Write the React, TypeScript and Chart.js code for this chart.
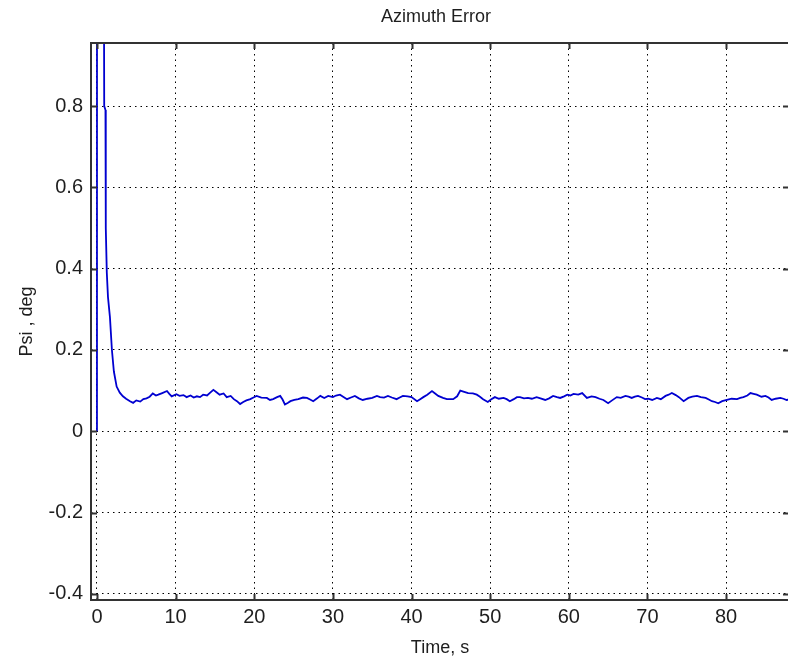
import React, { useEffect, useRef } from "react";
import { Chart, registerables } from "chart.js";

Chart.register(...registerables);

const chartTitle = "Azimuth Error";
const xAxisLabel = "Time, s";
const yAxisLabel = "Psi , deg";

const xTickValues = [0, 10, 20, 30, 40, 50, 60, 70, 80];
const yTickValues = [-0.4, -0.2, 0, 0.2, 0.4, 0.6, 0.8];

const xMin = -0.76;
const xMax = 88.0;
const yMin = -0.415;
const yMax = 0.955;

const timeS = [
  0, 0.01, 0.86, 0.92, 1.08, 1.12, 1.25, 1.4, 1.65, 1.9, 2.15, 2.5, 2.9, 3.3, 3.7, 4.2, 4.6, 5.0, 5.5, 5.9,
  6.3, 6.7, 7.1, 7.5, 7.8, 8.3, 8.9, 9.2, 9.5, 10.1, 10.5, 11.0, 11.4, 11.9, 12.3, 12.7, 13.1, 13.5, 14.0, 14.4,
  14.8, 15.2, 15.6, 16.1, 16.5, 17.0, 17.4, 17.8, 18.2, 18.6, 19.0, 19.5, 19.9, 20.3, 20.9, 21.6, 22.0, 22.4, 22.9, 23.3,
  23.6, 23.9, 24.3, 24.6, 25.1, 25.6, 26.2, 26.7, 27.1, 27.5, 28.0, 28.4, 28.9, 29.4, 30.0, 30.4, 30.9, 31.3, 31.8, 32.3,
  32.8, 33.3, 33.8, 34.4, 35.0, 35.6, 36.0, 36.5, 37.0, 37.5, 38.1, 38.5, 38.9, 39.5, 40.0, 40.7, 41.1, 41.5, 42.0, 42.6,
  43.0, 43.4, 44.0, 44.5, 45.3, 45.8, 46.2, 46.7, 47.2, 47.8, 48.3, 48.7, 49.1, 49.7, 50.1, 50.6, 51.1, 51.7, 52.1, 52.5,
  53.0, 53.4, 53.8, 54.3, 54.8, 55.3, 55.9, 56.4, 57.0, 57.5, 58.0, 58.5, 58.9, 59.4, 59.8, 60.2, 60.6, 61.2, 61.7, 62.3,
  62.9, 63.4, 63.9, 64.4, 65.0, 65.5, 66.1, 66.6, 67.2, 67.6, 68.0, 68.4, 68.8, 69.3, 69.7, 70.1, 70.6, 71.2, 71.7, 72.3,
  72.7, 73.1, 73.6, 74.0, 74.6, 75.2, 75.7, 76.3, 76.8, 77.4, 77.8, 78.2, 78.6, 79.0, 79.5, 80.1, 80.7, 81.4, 81.8, 82.2,
  82.7, 83.1, 83.5, 83.9, 84.5, 85.0, 85.4, 85.8, 86.3, 86.9, 87.3, 87.7, 88.2,
];

const psiDeg = [
  0, 3, 1.3, 0.8, 0.79, 0.5, 0.39, 0.33, 0.28, 0.2, 0.147, 0.11, 0.095, 0.086, 0.08, 0.074, 0.07, 0.076, 0.073, 0.079,
  0.081, 0.085, 0.093, 0.088, 0.09, 0.094, 0.099, 0.092, 0.086, 0.091, 0.087, 0.089, 0.084, 0.088, 0.083, 0.086, 0.084, 0.09, 0.088, 0.095,
  0.102, 0.096, 0.09, 0.093, 0.084, 0.087, 0.079, 0.074, 0.067, 0.072, 0.076, 0.079, 0.083, 0.087, 0.083, 0.082, 0.077, 0.079, 0.084, 0.087,
  0.078, 0.066, 0.07, 0.074, 0.077, 0.079, 0.083, 0.082, 0.078, 0.074, 0.081, 0.087, 0.082, 0.087, 0.084, 0.088, 0.09, 0.085, 0.079, 0.083,
  0.087, 0.081, 0.077, 0.08, 0.082, 0.087, 0.084, 0.083, 0.087, 0.083, 0.079, 0.083, 0.087, 0.086, 0.084, 0.074, 0.079, 0.084, 0.09, 0.099,
  0.093, 0.087, 0.082, 0.079, 0.079, 0.086, 0.1, 0.097, 0.094, 0.093, 0.09, 0.085, 0.079, 0.072, 0.078, 0.084, 0.08, 0.082, 0.079, 0.074,
  0.079, 0.084, 0.084, 0.081, 0.082, 0.08, 0.084, 0.081, 0.077, 0.081, 0.087, 0.084, 0.082, 0.086, 0.09, 0.088, 0.092, 0.09, 0.094, 0.082,
  0.086, 0.084, 0.08, 0.077, 0.069, 0.076, 0.084, 0.082, 0.087, 0.085, 0.082, 0.085, 0.087, 0.083, 0.079, 0.08, 0.077, 0.082, 0.079, 0.087,
  0.09, 0.094, 0.089, 0.084, 0.074, 0.082, 0.085, 0.087, 0.084, 0.082, 0.078, 0.074, 0.072, 0.069, 0.074, 0.077, 0.08, 0.079, 0.082, 0.084,
  0.088, 0.094, 0.092, 0.09, 0.085, 0.087, 0.083, 0.077, 0.08, 0.082, 0.08, 0.077, 0.079,
];

const FONT = "'Liberation Sans', Arial, Helvetica, sans-serif";
const TEXT_COLOR = "#1e1e1e";
const AXIS_COLOR = "#333333";
const LINE_COLOR = "#0000d0";

const frameTextPlugin = {
  id: "frameText",
  afterDraw(chart: any) {
    const { ctx, chartArea, scales } = chart;
    const { left, right, top, bottom } = chartArea;
    ctx.save();
    ctx.strokeStyle = AXIS_COLOR;
    ctx.lineWidth = 2;
    ctx.strokeRect(left, top, right - left, bottom - top);
    const tl = 6;
    ctx.beginPath();
    for (const v of xTickValues) {
      const px = Math.round(scales.x.getPixelForValue(v)) + 0.5;
      ctx.moveTo(px, bottom);
      ctx.lineTo(px, bottom - tl);
      ctx.moveTo(px, top);
      ctx.lineTo(px, top + tl);
    }
    for (const v of yTickValues) {
      const py = Math.round(scales.y.getPixelForValue(v)) + 0.5;
      ctx.moveTo(left, py);
      ctx.lineTo(left + tl, py);
      ctx.moveTo(right, py);
      ctx.lineTo(right - tl, py);
    }
    ctx.stroke();

    ctx.fillStyle = TEXT_COLOR;
    ctx.textAlign = "center";
    ctx.textBaseline = "middle";
    ctx.font = `18px ${FONT}`;
    const cx = (left + right) / 2;
    ctx.fillText(chartTitle, cx - 4, 17);
    ctx.fillText(xAxisLabel, cx, 648);
    ctx.translate(27, (top + bottom) / 2);
    ctx.rotate(-Math.PI / 2);
    ctx.fillText(yAxisLabel, 0, 0);
    ctx.restore();
  },
};

export default function App() {
  const canvasRef = useRef<HTMLCanvasElement | null>(null);

  useEffect(() => {
    const canvas = canvasRef.current;
    if (!canvas) return;
    const points = timeS.map((t, i) => ({ x: t, y: psiDeg[i] }));
    const chart = new Chart(canvas, {
      type: "line",
      data: {
        datasets: [
          {
            data: points,
            borderColor: LINE_COLOR,
            borderWidth: 1.8,
            pointRadius: 0,
            tension: 0,
            fill: false,
          },
        ],
      },
      options: {
        animation: false,
        responsive: false,
        devicePixelRatio: 1,
        layout: { padding: { top: 43, left: 0, right: 11, bottom: 0 } },
        plugins: {
          legend: { display: false },
          title: { display: false },
          tooltip: { enabled: false },
        },
        scales: {
          x: {
            type: "linear",
            min: xMin,
            max: xMax,
            afterFit: (s: any) => {
              s.height = 64;
            },
            afterBuildTicks: (s: any) => {
              s.ticks = xTickValues.map((v) => ({ value: v }));
            },
            ticks: {
              color: TEXT_COLOR,
              font: { family: FONT, size: 20 },
              padding: 5,
              maxRotation: 0,
              autoSkip: false,
              callback: (v: any) => String(v),
            },
            grid: { color: "#000000", lineWidth: 1, drawTicks: false },
            border: { display: false, dash: [1.5, 4] },
          },
          y: {
            type: "linear",
            min: yMin,
            max: yMax,
            afterFit: (s: any) => {
              s.width = 91;
            },
            afterBuildTicks: (s: any) => {
              s.ticks = yTickValues.map((v) => ({ value: v }));
            },
            ticks: {
              color: TEXT_COLOR,
              font: { family: FONT, size: 20 },
              padding: 8,
              autoSkip: false,
              callback: (v: any) => String(Math.round(Number(v) * 10) / 10),
            },
            grid: { color: "#000000", lineWidth: 1, drawTicks: false },
            border: { display: false, dash: [1.5, 4] },
          },
        },
      },
      plugins: [frameTextPlugin],
    });
    return () => chart.destroy();
  }, []);

  return (
    <div
      style={{
        position: "fixed",
        left: 0,
        top: 0,
        width: 788,
        height: 664,
        overflow: "hidden",
        background: "#ffffff",
      }}
    >
      <canvas ref={canvasRef} width={800} height={664} style={{ display: "block", width: 800, height: 664 }} />
    </div>
  );
}
